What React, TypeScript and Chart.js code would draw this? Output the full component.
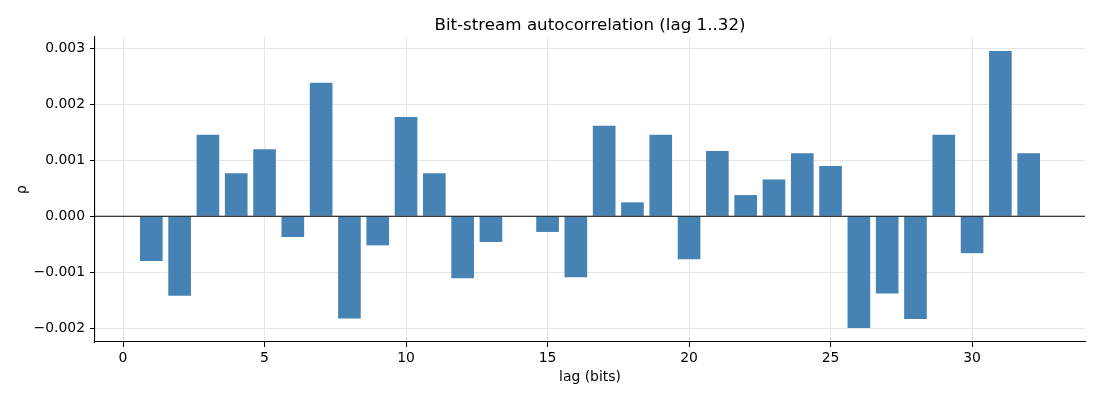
import { useEffect, useRef } from "react";
import { Chart, registerables } from "chart.js";

Chart.register(...registerables);

const TITLE = "Bit-stream autocorrelation (lag 1..32)";
const LAGS = [
  1, 2, 3, 4, 5, 6, 7, 8, 9, 10, 11, 12, 13, 14, 15, 16,
  17, 18, 19, 20, 21, 22, 23, 24, 25, 26, 27, 28, 29, 30, 31, 32,
];
const RHO = [
  -0.0008, -0.00142, 0.00146, 0.00077, 0.0012, -0.00037, 0.00239, -0.00183,
  -0.00052, 0.00178, 0.00077, -0.00111, -0.00046, 0.0, -0.00028, -0.00109,
  0.00162, 0.00025, 0.00146, -0.00077, 0.00117, 0.00038, 0.00066, 0.00113,
  0.0009, -0.002, -0.00138, -0.00184, 0.00146, -0.00066, 0.00296, 0.00113,
];
const X_TICKS = [0, 5, 10, 15, 20, 25, 30];
const Y_TICKS = [-0.002, -0.001, 0, 0.001, 0.002, 0.003];
const X_RANGE = [-0.99, 33.99];
const Y_RANGE = [-0.00225, 0.00321];

const BAR_COLOR = "#4682b4";
const GRID = "#e6e6e6";
const FONT = "DejaVu Sans";

// title centred over the plot area (matplotlib style), plus the black zero line
const extras = {
  id: "extras",
  afterDatasetsDraw(chart: Chart) {
    const { ctx, chartArea, scales } = chart;
    const y = scales.y.getPixelForValue(0);
    ctx.save();
    ctx.strokeStyle = "#000";
    ctx.lineWidth = 1.1;
    ctx.beginPath();
    ctx.moveTo(chartArea.left, y);
    ctx.lineTo(chartArea.right, y);
    ctx.stroke();

    ctx.fillStyle = "#000";
    ctx.font = `16.7px "${FONT}"`;
    ctx.textAlign = "center";
    ctx.textBaseline = "alphabetic";
    ctx.fillText(TITLE, (chartArea.left + chartArea.right) / 2, chartArea.top - 7);
    ctx.restore();
  },
};

function AutocorrChart() {
  const canvasRef = useRef<HTMLCanvasElement>(null);
  const chartRef = useRef<Chart | null>(null);

  useEffect(() => {
    if (!canvasRef.current) return;
    const ctx = canvasRef.current.getContext("2d");
    if (!ctx) return;

    Chart.defaults.font.family = FONT;
    Chart.defaults.color = "#000";

    chartRef.current?.destroy();
    chartRef.current = new Chart(ctx, {
      type: "bar",
      data: {
        datasets: [
          {
            data: LAGS.map((l, i) => ({ x: l, y: RHO[i] })),
            backgroundColor: BAR_COLOR,
            borderWidth: 0,
            barPercentage: 0.8,
            categoryPercentage: 1,
          },
        ],
      },
      plugins: [extras],
      options: {
        responsive: true,
        maintainAspectRatio: false,
        animation: false,
        layout: { padding: { left: 0, right: 15, top: 37, bottom: 0 } },
        plugins: {
          legend: { display: false },
          tooltip: { enabled: false },
          title: { display: false },
        },
        scales: {
          x: {
            type: "linear",
            offset: false,
            min: X_RANGE[0],
            max: X_RANGE[1],
            afterFit: (s) => {
              s.height = 58;
            },
            afterBuildTicks: (s) => {
              s.ticks = X_TICKS.map((v) => ({ value: v }));
            },
            ticks: {
              padding: 3,
              font: { size: 13.9 },
              color: "#000",
              maxRotation: 0,
              autoSkip: false,
            },
            grid: {
              color: GRID,
              lineWidth: 1,
              offset: false,
              tickColor: "#000",
              tickLength: 5,
            },
            border: { display: true, color: "#000", width: 1.1 },
            title: {
              display: true,
              text: "lag (bits)",
              font: { size: 13.9 },
              color: "#000",
              padding: { top: 0, bottom: 14 },
            },
          },
          y: {
            min: Y_RANGE[0],
            max: Y_RANGE[1],
            afterFit: (s) => {
              s.width = 95;
            },
            afterBuildTicks: (s) => {
              s.ticks = Y_TICKS.map((v) => ({ value: v }));
            },
            ticks: {
              padding: 5,
              font: { size: 13.9 },
              color: "#000",
              autoSkip: false,
              callback: (v) => Number(v).toFixed(3).replace("-", "\u2212"),
            },
            grid: {
              color: GRID,
              lineWidth: 1,
              tickColor: "#000",
              tickLength: 5,
            },
            border: { display: true, color: "#000", width: 1.1 },
            title: {
              display: true,
              text: "ρ",
              font: { size: 13.9 },
              color: "#000",
              padding: { top: 13.7, bottom: 0 },
            },
          },
        },
      },
    });

    return () => chartRef.current?.destroy();
  }, []);

  return (
    <div style={{ position: "fixed", left: 0, top: 0, width: 1100, height: 400, background: "#fff" }}>
      <canvas ref={canvasRef} />
    </div>
  );
}

export default function App() {
  return <AutocorrChart />;
}
